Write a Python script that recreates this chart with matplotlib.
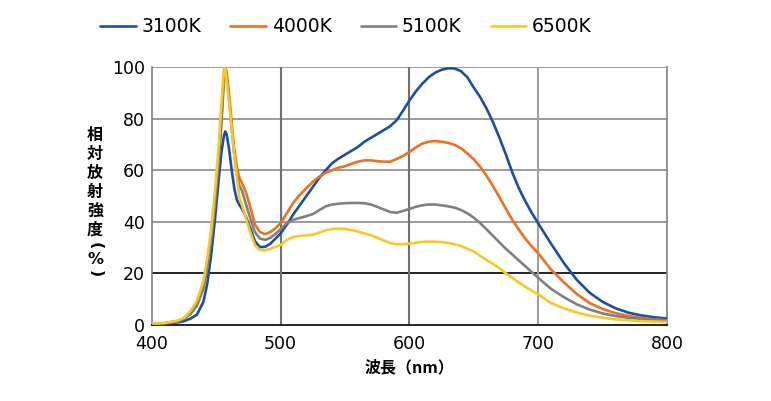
import matplotlib
matplotlib.use("Agg")
import matplotlib.pyplot as plt

plt.rcParams['font.family'] = ['Noto Sans CJK JP', 'DejaVu Sans']

# wavelength (nm) and relative radiant intensity (%)
wavelength = [400, 410, 420, 425, 430, 435, 440, 443, 446, 449, 452, 454, 456, 457, 458,
              460, 462, 464, 466, 468, 470, 473, 476, 480, 484, 488, 492, 496, 500,
              505, 510, 515, 520, 525, 530, 535, 540, 545, 550, 555, 560, 565, 570,
              575, 580, 585, 590, 595, 600, 605, 610, 615, 620, 625, 630, 635, 640,
              645, 650, 655, 660, 665, 670, 675, 680, 685, 690, 695, 700, 710, 720,
              730, 740, 750, 760, 770, 780, 790, 800]

k3100 = [0.5, 0.6, 1.0, 1.5, 2.5, 4.0, 9, 16, 27, 41, 57, 67, 73.5, 75, 74,
         68, 60, 53, 48.5, 46.5, 45, 42, 38, 32.5, 30.2, 30.3, 31.5, 33.5, 35.5,
         39, 43, 46.5, 50, 53.5, 57, 60, 62.7, 64.5, 66, 67.5, 69, 71, 72.5,
         74, 75.5, 77, 79.3, 83, 87, 90.5, 93.5, 96, 97.8, 98.9, 99.5, 99.4, 98.4,
         96, 92, 88.3, 83.8, 78.5, 72.5, 66, 59, 53, 48, 43.5, 39.4, 31.5, 24,
         17.5, 12.5, 9, 6.5, 4.8, 3.7, 3.0, 2.5]

k4000 = [0.5, 0.7, 1.5, 2.5, 4.5, 8, 15, 23, 35, 49, 66, 80, 97, 100, 98,
         89, 78, 68, 61, 57, 55, 51.5, 46.5, 39, 36, 35.2, 36, 37.5, 39.5,
         43.5, 47.5, 50.5, 53, 55.5, 57.5, 59, 60, 61, 61.5, 62.5, 63.3, 63.8, 63.8,
         63.5, 63.3, 63.3, 64.3, 65.5, 67, 68.8, 70.3, 71, 71.3, 71, 70.6, 69.8, 68.5,
         66.5, 64.2, 61.3, 57.8, 53.8, 49.5, 45, 40.7, 37, 33.5, 30.5, 27.8, 21.5, 16.5,
         12, 8.5, 6.2, 4.6, 3.5, 2.8, 2.2, 1.8]

k5100 = [0.5, 0.7, 1.5, 2.5, 4.3, 7.5, 14, 22, 33, 47, 64, 78, 95, 99.5, 97,
         87, 76, 66, 58, 54, 52, 47, 42, 36, 33.5, 33, 33.8, 35.3, 37.2,
         39.5, 40.8, 41.5, 42.2, 43, 44.5, 46, 46.7, 47, 47.2, 47.3, 47.3, 47.2, 46.7,
         45.8, 44.8, 43.8, 43.5, 44.2, 45, 45.8, 46.4, 46.7, 46.7, 46.4, 46, 45.5, 44.6,
         43.3, 41.6, 39.5, 37, 34.5, 32, 29.5, 27.3, 25, 22.8, 20.5, 18.3, 14, 10.8,
         8, 6, 4.5, 3.5, 2.8, 2.3, 2.0, 1.8]

k6500 = [0.6, 0.8, 1.7, 2.8, 5.5, 9.5, 17, 26, 37, 52, 70, 86, 99.5, 99.5, 95,
         86, 76, 66, 57, 49.5, 46.5, 41.5, 36.5, 31, 29, 29, 29.5, 30.3, 31,
         33, 34.2, 34.5, 34.7, 35, 35.8, 36.7, 37.2, 37.3, 37.2, 36.8, 36.2, 35.5, 34.8,
         33.8, 32.8, 31.8, 31.3, 31.3, 31.6, 31.9, 32.2, 32.3, 32.3, 32.1, 31.8, 31.3, 30.6,
         29.6, 28.5, 26.8, 25.2, 23.7, 22, 20, 18.2, 16.5, 14.8, 13.3, 11.9, 8.5, 6.5,
         4.8, 3.6, 2.8, 2.2, 1.8, 1.5, 1.3, 1.2]

series = [('3100K', k3100, '#1a4fa3'),
          ('4000K', k4000, '#ee7020'),
          ('5100K', k5100, '#808080'),
          ('6500K', k6500, '#fbc820')]

xticks = [400, 500, 600, 700, 800]
yticks = [0, 20, 40, 60, 80, 100]

fig = plt.figure(figsize=(7.71, 4.01), dpi=100)
ax = fig.add_axes([0.197, 0.1895, 0.668, 0.6435])

# grid lines
for y in yticks[1:]:
    col = '#000000' if y == 20 else '#8a8a8a'
    ax.axhline(y, color=col, linewidth=1.2, zorder=1)
for x in xticks[1:-1]:
    col = '#a0a0a0' if x == 700 else '#707070'
    ax.axvline(x, color=col, linewidth=1.5, zorder=1)

handles = []
for name, vals, color in series:
    h, = ax.plot(wavelength, vals, color=color, linewidth=1.9, label=name, zorder=3,
                 solid_capstyle='round', solid_joinstyle='round')
    handles.append(h)

ax.set_xlim(400, 800)
ax.set_ylim(0, 100)
ax.set_xticks(xticks)
ax.set_yticks(yticks)
ax.tick_params(length=0, labelsize=12.5)
ax.tick_params(axis='x', pad=7)
ax.tick_params(axis='y', pad=5)
for lab in ax.get_xticklabels() + ax.get_yticklabels():
    lab.set_family(['DejaVu Sans'])

ax.spines['top'].set_visible(False)
ax.spines['left'].set_color('#808080')
ax.spines['right'].set_color('#808080')
ax.spines['bottom'].set_color('#000000')
for s in ax.spines.values():
    s.set_linewidth(1.2)

ax.set_xlabel('波長（nm）', fontsize=11.5, fontweight='bold', labelpad=5)

# vertical y label, one character per row
ylabel_chars = ['相', '対', '放', '射', '強', '度', '(', '%', ')']
ylabel_rows = [135, 154, 173, 192, 211, 230, 246, 259, 274]
for ch, row in zip(ylabel_chars, ylabel_rows):
    rot = -90 if ch in '()' else 0
    fam = ['DejaVu Sans'] if ch in '()%' else ['Noto Sans CJK JP']
    fig.text(95 / 771, 1 - row / 401, ch, fontsize=11.5, fontweight='bold',
             ha='center', va='center', rotation=rot, family=fam)

fig.legend(handles=handles, loc='center', bbox_to_anchor=(346 / 771, 1 - 27 / 401),
           ncol=4, frameon=False, handlelength=1.9, handletextpad=0.3,
           columnspacing=1.55, prop={'family': 'DejaVu Sans', 'size': 13.5})

fig.savefig('out.png', dpi=100)
